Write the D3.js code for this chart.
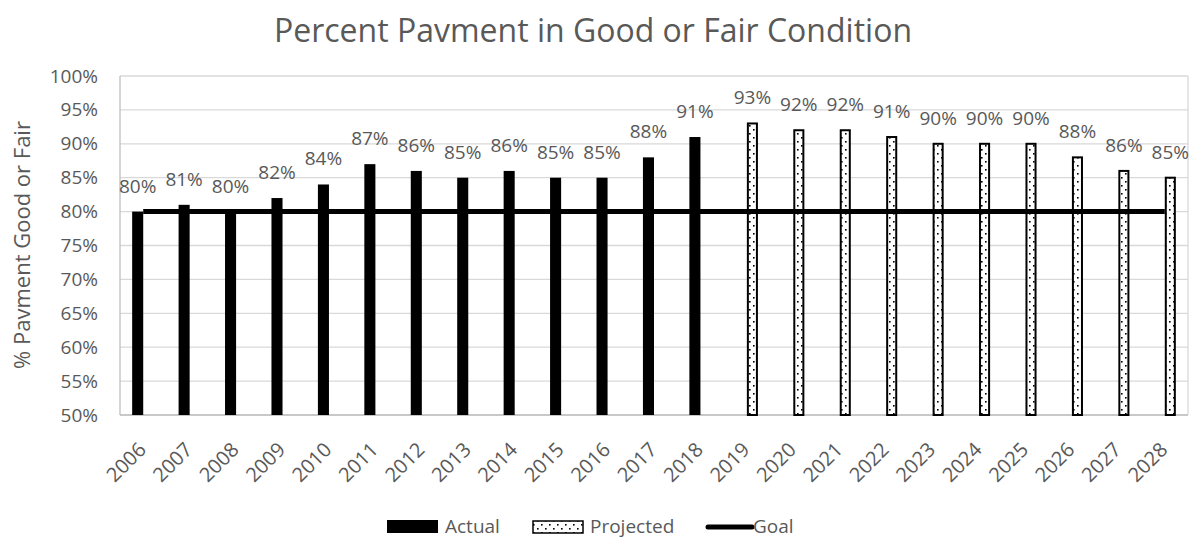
<!DOCTYPE html>
<html>
<head>
<meta charset="utf-8">
<script src="https://cdn.jsdelivr.net/npm/d3@7"></script>
<style>
  body { margin: 0; background: #fff; }
  svg { display: block; font-family: "Open Sans", sans-serif; }
</style>
</head>
<body>
<svg id="chart" width="1197" height="539"></svg>
<script>
const years = ["2006","2007","2008","2009","2010","2011","2012","2013","2014","2015","2016","2017","2018","2019","2020","2021","2022","2023","2024","2025","2026","2027","2028"];
const actualYears = ["2006","2007","2008","2009","2010","2011","2012","2013","2014","2015","2016","2017","2018"];
const actualValues = [80,81,80,82,84,87,86,85,86,85,85,88,91];
const projectedYears = ["2019","2020","2021","2022","2023","2024","2025","2026","2027","2028"];
const projectedValues = [93,92,92,91,90,90,90,88,86,85];
const goalValues = years.map(() => 80);
const yTicks = [50,55,60,65,70,75,80,85,90,95,100];
const seriesNames = ["Actual","Projected"];

const svg = d3.select("#chart");
const plot = { left: 120, right: 1188, top: 76, bottom: 415 };
const textColor = "#595959";
const fs = "19px";

const defs = svg.append("defs");
const pat = defs.append("pattern").attr("id","dots").attr("patternUnits","userSpaceOnUse")
  .attr("width",8).attr("height",8);
pat.append("rect").attr("width",8).attr("height",8).attr("fill","#fff");
pat.append("rect").attr("x",1).attr("y",1).attr("width",1.6).attr("height",1.6).attr("fill","#000");
pat.append("rect").attr("x",5).attr("y",5).attr("width",1.6).attr("height",1.6).attr("fill","#000");

const x = d3.scaleBand().domain(years).range([plot.left, plot.right]).padding(0);
const x1 = d3.scaleBand().domain(seriesNames).range([0, x.bandwidth()]).paddingInner(0).paddingOuter(1.1);
const y = d3.scaleLinear().domain([50,100]).range([plot.bottom, plot.top]);

// gridlines
svg.append("g").selectAll("line").data(yTicks).join("line")
  .attr("x1", plot.left).attr("x2", plot.right)
  .attr("y1", d => y(d)).attr("y2", d => y(d))
  .attr("stroke", "#d9d9d9").attr("stroke-width", 1.3);

// vertical borders
svg.append("line").attr("x1", plot.left).attr("x2", plot.left).attr("y1", plot.top).attr("y2", plot.bottom)
  .attr("stroke", "#bfbfbf").attr("stroke-width", 1.3);
svg.append("line").attr("x1", plot.right).attr("x2", plot.right).attr("y1", plot.top).attr("y2", plot.bottom)
  .attr("stroke", "#d9d9d9").attr("stroke-width", 1.3);

// y axis labels
const yAxis = d3.axisLeft(y).tickValues(yTicks).tickFormat(d => d + "%").tickSize(0).tickPadding(22);
const gy = svg.append("g").attr("transform", `translate(${plot.left},0)`).call(yAxis);
gy.select(".domain").remove();
gy.selectAll("text").attr("fill", textColor).style("font-size", fs).style("font-family", "Open Sans");

// x axis baseline
svg.append("line").attr("x1", plot.left).attr("x2", plot.right).attr("y1", plot.bottom).attr("y2", plot.bottom)
  .attr("stroke", "#bfbfbf").attr("stroke-width", 1.3);

// x labels
const xAxis = d3.axisBottom(x).tickSize(0).tickPadding(0);
const gx = svg.append("g").attr("transform", `translate(0,${plot.bottom})`).call(xAxis);
gx.select(".domain").remove();
gx.selectAll("text")
  .attr("fill", textColor).style("font-size", "20px").style("font-family", "Open Sans")
  .attr("text-anchor", "end")
  .attr("dy", null)
  .attr("transform", "translate(4,36) rotate(-45)");

const actual = actualYears.map((yr, i) => ({ year: yr, value: actualValues[i] }));
const projected = projectedYears.map((yr, i) => ({ year: yr, value: projectedValues[i] }));

svg.append("g").selectAll("rect").data(actual).join("rect")
  .attr("x", d => x(d.year) + x1("Actual"))
  .attr("width", x1.bandwidth())
  .attr("y", d => y(d.value))
  .attr("height", d => y(50) - y(d.value))
  .attr("fill", "#000");

svg.append("g").selectAll("rect").data(projected).join("rect")
  .attr("x", d => x(d.year) + x1("Projected") + 1)
  .attr("width", x1.bandwidth() - 2)
  .attr("y", d => y(d.value))
  .attr("height", d => y(50) - y(d.value))
  .attr("fill", "url(#dots)").attr("stroke", "#000").attr("stroke-width", 2);

// goal line
const line = d3.line().x((d, i) => x(years[i]) + x.bandwidth() / 2).y(d => y(d));
svg.append("path").datum(goalValues).attr("d", line)
  .attr("fill", "none").attr("stroke", "#000").attr("stroke-width", 5);

// data labels
svg.append("g").selectAll("text").data(actual).join("text")
  .attr("x", d => x(d.year) + x1("Actual") + x1.bandwidth() / 2)
  .attr("y", d => y(d.value) - 19)
  .attr("text-anchor", "middle").attr("fill", textColor)
  .style("font-size", fs).text(d => d.value + "%");
svg.append("g").selectAll("text").data(projected).join("text")
  .attr("x", d => x(d.year) + x1("Projected") + x1.bandwidth() / 2)
  .attr("y", d => y(d.value) - 19)
  .attr("text-anchor", "middle").attr("fill", textColor)
  .style("font-size", fs).text(d => d.value + "%");

// title
svg.append("text").attr("x", 593).attr("y", 42).attr("text-anchor", "middle")
  .attr("fill", textColor).style("font-size", "32px").text("Percent Pavment in Good or Fair Condition");

// y axis title
svg.append("text").attr("transform", `translate(30,245) rotate(-90)`)
  .attr("text-anchor", "middle").attr("fill", textColor).style("font-size", "22px")
  .text("% Pavment Good or Fair");

// legend
const lg = svg.append("g").attr("transform", "translate(0,527)");
lg.append("rect").attr("x", 387).attr("y", -7).attr("width", 51).attr("height", 13).attr("fill", "#000");
lg.append("text").attr("x", 445).attr("y", 6).attr("fill", textColor).style("font-size", fs).text(seriesNames[0]);
lg.append("rect").attr("x", 533).attr("y", -6).attr("width", 50).attr("height", 12)
  .attr("fill", "url(#dots)").attr("stroke", "#000").attr("stroke-width", 1.5);
lg.append("text").attr("x", 590).attr("y", 6).attr("fill", textColor).style("font-size", fs).text(seriesNames[1]);
lg.append("line").attr("x1", 708).attr("x2", 752).attr("y1", 0).attr("y2", 0)
  .attr("stroke", "#000").attr("stroke-width", 5).attr("stroke-linecap", "round");
lg.append("text").attr("x", 753).attr("y", 6).attr("fill", textColor).style("font-size", fs).text("Goal");
</script>
</body>
</html>
